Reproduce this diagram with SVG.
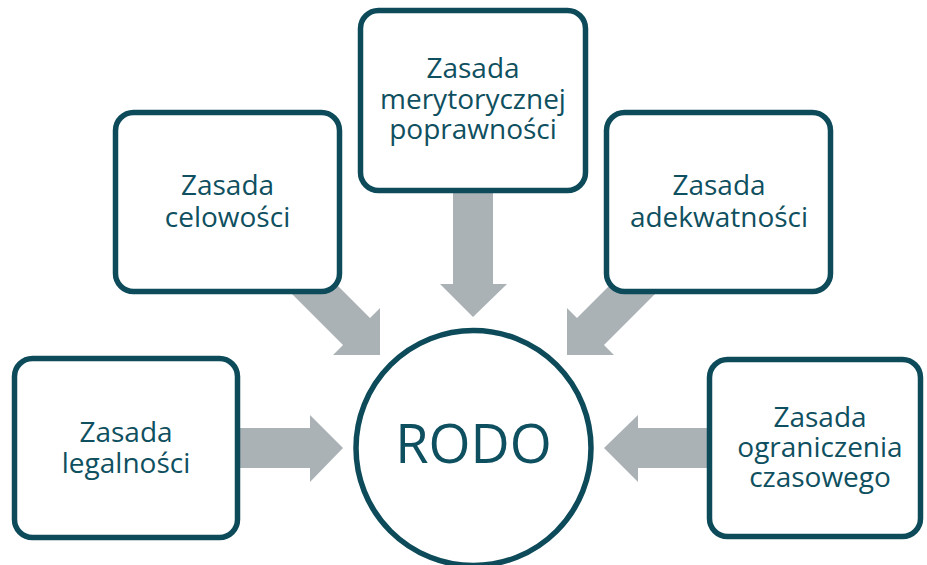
<svg xmlns="http://www.w3.org/2000/svg" width="927" height="565" viewBox="0 0 927 565">
<style>
.box{fill:#ffffff;stroke:#0d4b5a;stroke-width:5.5}
.arr{fill:#abb2b6;stroke:none}
.t{font-family:"Open Sans","DejaVu Sans",sans-serif;font-size:28px;fill:#0f5060;text-anchor:middle}
.big{font-family:"Open Sans","DejaVu Sans",sans-serif;font-size:54px;fill:#0f5060;text-anchor:middle}
</style>
<rect width="927" height="565" fill="#ffffff"/>
<g id="connectors">
<polygon class="arr" points="236,428 310,428 310,415 343,448 310,482 310,468 236,468"/>
<polygon class="arr" points="711,428 638,428 638,415 604,448 638,482 638,468 711,468"/>
<polygon class="arr" points="453,188 493,188 493,284 507,284 473,317 440,284 453,284"/>
<polygon class="arr" points="332,280 370,318 380,308 380,355 333,355 343,345 278,280"/>
<polygon class="arr" points="615,280 577,318 567,308 567,355 614,355 604,345 669,280"/>
</g>
<g id="rodo">
<circle class="box" cx="473.5" cy="448" r="117.5"/>
<text class="big" x="473.5" y="463">RODO</text>
</g>
<g id="legalnosci">
<rect class="box" x="14.5" y="358.5" width="223" height="179" rx="18"/>
<text class="t"><tspan x="126" y="442">Zasada</tspan><tspan x="126" y="473">legalności</tspan></text>
</g>
<g id="celowosci">
<rect class="box" x="115.5" y="112.5" width="224" height="179" rx="18"/>
<text class="t"><tspan x="227.5" y="195">Zasada</tspan><tspan x="227.5" y="227">celowości</tspan></text>
</g>
<g id="merytorycznej">
<rect class="box" x="360.5" y="10.5" width="225" height="180" rx="18"/>
<text class="t"><tspan x="473" y="78">Zasada</tspan><tspan x="473" y="109">merytorycznej</tspan><tspan x="473" y="139">poprawności</tspan></text>
</g>
<g id="adekwatnosci">
<rect class="box" x="606.5" y="112.5" width="224" height="179" rx="18"/>
<text class="t"><tspan x="719" y="195">Zasada</tspan><tspan x="719" y="227">adekwatności</tspan></text>
</g>
<g id="ograniczenia">
<rect class="box" x="709.5" y="359.5" width="211" height="177" rx="18"/>
<text class="t"><tspan x="820" y="427">Zasada</tspan><tspan x="820" y="457">ograniczenia</tspan><tspan x="820" y="487">czasowego</tspan></text>
</g>
</svg>
